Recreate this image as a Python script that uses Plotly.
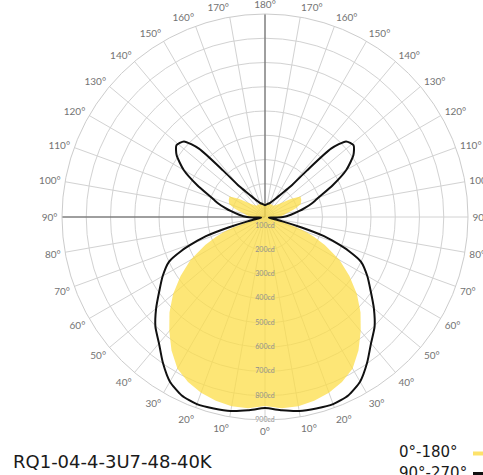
import plotly.graph_objects as go

# Vertical angles (gamma, degrees from nadir) shared by both planes
gamma = [0, 5, 10, 15, 20, 25, 30, 35, 40, 45, 50, 55, 60, 65, 68, 70, 72, 74, 76, 78,
         80, 85, 88, 90, 95, 100, 103, 106, 108, 110, 115, 120, 125, 129, 133, 136, 138,
         140, 145, 150, 160, 170, 180]

# Luminous intensity, C0-C180 plane (cd)
cd_0_180 = [842, 855, 855, 847, 834, 814, 785, 735, 677, 620, 558, 488, 418, 335, 282, 244,
            199, 145, 112, 108, 108, 112, 117, 125, 137, 154, 174, 195, 207, 220, 228, 232,
            195, 162, 141, 133, 129, 125, 121, 121, 121, 121, 117]

# Luminous intensity, C90-C270 plane (cd)
cd_90_270 = [851, 863, 875, 880, 884, 875, 847, 797, 743, 702, 649, 595, 550, 500, 434, 376,
             319, 220, 137, 88, 79, 88, 112, 137, 170, 207, 232, 262, 280, 298, 370, 450,
             508, 533, 520, 455, 319, 228, 178, 150, 125, 117, 112]

radial_ticks = [100, 200, 300, 400, 500, 600, 700, 800, 900]
radial_labels = [f"{v}cd" for v in radial_ticks]
angle_ticks = list(range(0, 360, 10))
angle_labels = [f"{t if t <= 180 else 360 - t}°" for t in angle_ticks]

R_MIN = 63
R_MAX = 900

title_text = "RQ1-04-4-3U7-48-40K"
legend_names = ["0°-180°", "90°-270°"]
yellow = "rgba(252,221,70,0.74)"
black = "#111111"


def closed(values):
    theta = list(gamma) + [360 - g for g in reversed(gamma)]
    r = list(values) + list(reversed(values))
    return theta, r


fig = go.Figure()

# darker reference lines (180° up, 90° left)
fig.add_trace(go.Scatterpolar(r=[R_MIN, R_MAX], theta=[180, 180], mode="lines",
                              line=dict(color="#555555", width=1), showlegend=False,
                              hoverinfo="skip"))
fig.add_trace(go.Scatterpolar(r=[R_MIN, R_MAX], theta=[270, 270], mode="lines",
                              line=dict(color="#555555", width=1), showlegend=False,
                              hoverinfo="skip"))

th, rr = closed(cd_0_180)
fig.add_trace(go.Scatterpolar(r=rr, theta=th, mode="lines", fill="toself",
                              fillcolor=yellow, line=dict(color="rgba(0,0,0,0)", width=0),
                              name=legend_names[0], showlegend=False))

th, rr = closed(cd_90_270)
fig.add_trace(go.Scatterpolar(r=rr, theta=th, mode="lines",
                              line=dict(color=black, width=2, shape="spline", smoothing=0.6),
                              name=legend_names[1], showlegend=False))

# radial labels along the 0° direction
fig.add_trace(go.Scatterpolar(r=radial_ticks, theta=[0] * len(radial_ticks), mode="text",
                              text=radial_labels,
                              textfont=dict(size=7, color="#8f8f8f", family="Lato"),
                              showlegend=False, hoverinfo="skip"))

W, H = 483, 475
fig.update_layout(
    width=W, height=H,
    margin=dict(l=0, r=0, t=0, b=0),
    paper_bgcolor="white",
    showlegend=False,
    polar=dict(
        domain=dict(x=[62 / W, 468 / W], y=[1 - 420 / H, 1 - 14 / H]),
        bgcolor="white",
        radialaxis=dict(range=[R_MIN, R_MAX], tickvals=radial_ticks, showticklabels=False,
                        ticks="", showline=False, gridcolor="#d2d2d2", gridwidth=1),
        angularaxis=dict(rotation=-90, direction="counterclockwise",
                         tickvals=angle_ticks, ticktext=angle_labels,
                         ticks="outside", ticklen=2, tickcolor="rgba(0,0,0,0)",
                         showline=True, linecolor="#cccccc", linewidth=1,
                         gridcolor="#d2d2d2", gridwidth=1,
                         tickfont=dict(size=10, color="#737373", family="Lato")),
    ),
    annotations=[
        dict(text=title_text, xref="paper", yref="paper", x=11 / W, y=1 - 461.5 / H,
             xanchor="left", yanchor="middle", showarrow=False,
             font=dict(size=18, color="#1a1a1a", family="DejaVu Sans")),
        dict(text=legend_names[0], xref="paper", yref="paper", x=397 / W, y=1 - 451.5 / H,
             xanchor="left", yanchor="middle", showarrow=False,
             font=dict(size=15, color="#1a1a1a", family="DejaVu Sans")),
        dict(text=legend_names[1], xref="paper", yref="paper", x=397 / W, y=1 - 472.5 / H,
             xanchor="left", yanchor="middle", showarrow=False,
             font=dict(size=15, color="#1a1a1a", family="DejaVu Sans")),
    ],
    shapes=[
        dict(type="line", xref="paper", yref="paper", x0=473 / W, x1=1.02,
             y0=1 - 453.5 / H, y1=1 - 453.5 / H, line=dict(color="#fde26a", width=4)),
        dict(type="line", xref="paper", yref="paper", x0=473 / W, x1=1.02,
             y0=1 - 474 / H, y1=1 - 474 / H, line=dict(color=black, width=4)),
    ],
)

fig.write_html(
    "out.html",
    config={"displayModeBar": False},
    post_script="document.body.style.margin='0';document.body.style.overflow='hidden';",
)
